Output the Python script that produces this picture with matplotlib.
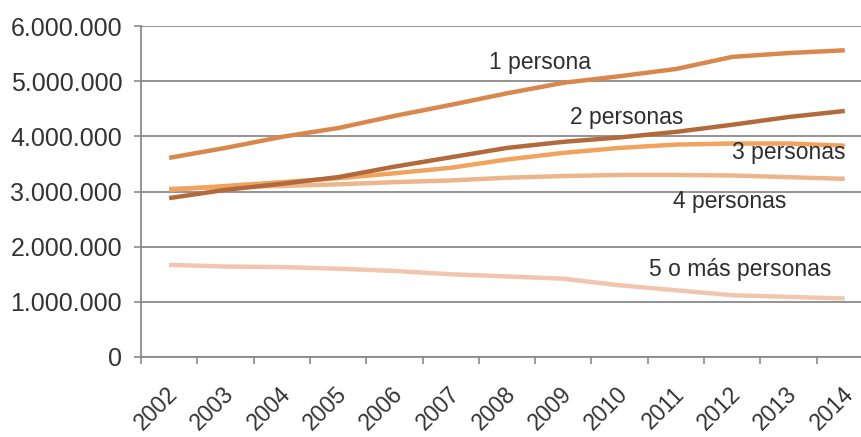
import matplotlib
matplotlib.use("Agg")
import matplotlib.pyplot as plt
import matplotlib.transforms as mtransforms
from matplotlib.ticker import FuncFormatter, FixedLocator

plt.rcParams['font.family'] = ['Liberation Sans', 'DejaVu Sans']

years = [2002, 2003, 2004, 2005, 2006, 2007, 2008, 2009, 2010, 2011, 2012, 2013, 2014]

hogares_1 = [3610000, 3790000, 3990000, 4150000, 4370000, 4570000, 4780000,
             4970000, 5090000, 5220000, 5440000, 5510000, 5560000]
hogares_2 = [2880000, 3030000, 3140000, 3260000, 3450000, 3620000, 3790000,
             3900000, 3980000, 4080000, 4210000, 4350000, 4460000]
hogares_3 = [3030000, 3100000, 3170000, 3240000, 3330000, 3430000, 3580000,
             3700000, 3790000, 3850000, 3870000, 3870000, 3830000]
hogares_4 = [3050000, 3080000, 3100000, 3130000, 3170000, 3200000, 3250000,
             3280000, 3300000, 3300000, 3290000, 3260000, 3230000]
hogares_5 = [1670000, 1640000, 1630000, 1600000, 1560000, 1500000, 1460000,
             1420000, 1300000, 1210000, 1120000, 1090000, 1060000]

series_labels = ["1 persona", "2 personas", "3 personas", "4 personas", "5 o más personas"]
yticks = [0, 1000000, 2000000, 3000000, 4000000, 5000000, 6000000]

series = [hogares_1, hogares_2, hogares_3, hogares_4, hogares_5]
colors = ["#D8884C", "#B26A3C", "#F0A35E", "#EDB58C", "#F2C6AE"]
# label anchors (left edge, vertical centre) in data units
label_pos = [(5.68, 5330000), (7.12, 4350000), (10.0, 3700000),
             (8.95, 2810000), (8.52, 1580000)]

W, H = 862, 437
fig = plt.figure(figsize=(W / 100, H / 100), dpi=100)
ax = fig.add_axes([141 / W, (H - 357) / H, (W - 141) / W, (357 - 26) / H])

x = list(range(len(years)))
draw_order = [4, 3, 0, 2, 1]
for i in draw_order:
    ax.plot(x, series[i], color=colors[i], lw=3.2, solid_capstyle='butt', zorder=3)

for (lx, ly), lab in zip(label_pos, series_labels):
    ax.text(lx, ly, lab, ha='left', va='center', fontsize=16.5, color='#2e2e2e', zorder=4)

ax.set_xlim(-0.5, 12.306)
ax.set_ylim(0, 6000000)

grid_c = '#8a8a8a'
ax.set_yticks(yticks)
ax.yaxis.set_major_formatter(FuncFormatter(lambda v, p: f"{int(v):,}".replace(",", ".")))
ax.grid(axis='y', color=grid_c, lw=1.3, zorder=1)

# category boundaries carry the tick marks, centres carry the year labels
ax.xaxis.set_major_locator(FixedLocator([i - 0.5 for i in range(len(years) + 1)]))
ax.xaxis.set_major_formatter(FuncFormatter(lambda v, p: ""))
ax.xaxis.set_minor_locator(FixedLocator(x))
ax.set_xticklabels([str(y) for y in years], minor=True)

ax.tick_params(axis='y', which='major', length=5, width=1.2, color=grid_c,
               labelsize=18, labelcolor='#333333', pad=8.5)
ax.tick_params(axis='x', which='major', length=5, width=1.2, color=grid_c, direction='out')
ax.tick_params(axis='x', which='minor', length=0, labelsize=16.5, labelcolor='#333333', pad=18.5)

offset = mtransforms.ScaledTranslation(-3 / 100, 0, fig.dpi_scale_trans)
for lbl in ax.get_xticklabels(minor=True):
    lbl.set_rotation(45)
    lbl.set_ha('right')
    lbl.set_va('top')
    lbl.set_rotation_mode('anchor')
    lbl.set_transform(lbl.get_transform() + offset)

for s in ['top', 'right']:
    ax.spines[s].set_visible(False)
for s in ['left', 'bottom']:
    ax.spines[s].set_color(grid_c)
    ax.spines[s].set_linewidth(1.3)

fig.savefig("out.png", dpi=100)
